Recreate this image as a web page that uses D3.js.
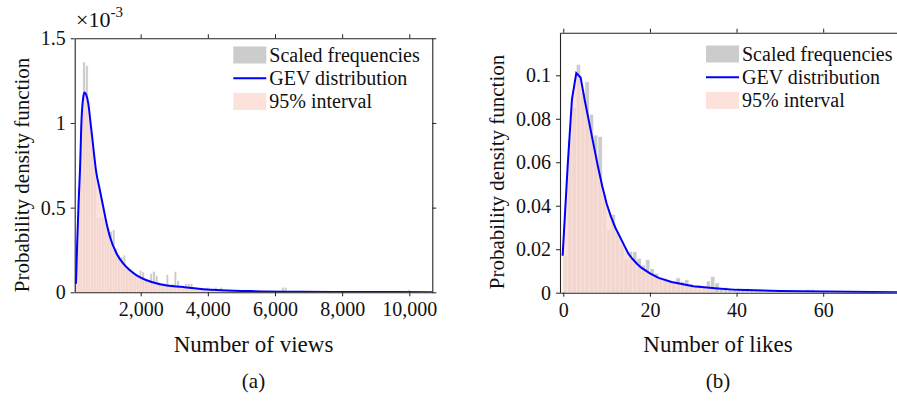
<!DOCTYPE html>
<html>
<head>
<meta charset="utf-8">
<script src="https://cdn.jsdelivr.net/npm/d3@7"></script>
<style>
  html, body { margin: 0; padding: 0; background: #fff; }
  svg { display: block; font-family: "Liberation Serif", "DejaVu Serif", serif; }
  text { font-family: "Liberation Serif", "DejaVu Serif", serif; fill: #111; }
</style>
</head>
<body>
<svg id="chart" width="897" height="403"></svg>
<script>
// ---------------- DATA ----------------
// (a) Number of views: histogram bins (start, width) and scaled frequencies (x 1e-3)
const viewBinStart = 35;
const viewBinWidth = 80;
const viewFreq = [
  0.10, 0.62, 1.00, 1.36, 1.34, 1.02, 0.88, 0.74, 0.44, 0.44,
  0.44, 0.42, 0.38, 0.36, 0.37, 0.26, 0.22, 0.21, 0.22, 0.15,
  0.14, 0.12, 0.11, 0.10, 0.13, 0.12, 0.08, 0.07, 0.11, 0.124,
  0.10, 0.06, 0.05, 0.05, 0.106, 0.04, 0.05, 0.124, 0.07, 0.03,
  0.035, 0.051, 0.051, 0.051, 0.02, 0.025, 0.02, 0.015, 0.02, 0.03,
  0.02, 0.015, 0.03, 0.01, 0.03, 0.01, 0.008, 0.006, 0.01, 0.005,
  0.008, 0.006, 0.005, 0.007, 0.004, 0.006, 0.005, 0.004, 0.006, 0.004,
  0.005, 0.003, 0.004, 0.003, 0.005, 0.003, 0.004, 0.03, 0.03, 0.004,
  0.003, 0.003, 0.004, 0.002, 0.003, 0.003, 0.002, 0.004, 0.002, 0.003,
  0.002, 0.003, 0.002, 0.002, 0.003, 0.002, 0.002, 0.003, 0.002, 0.002,
  0.003, 0.002, 0.002, 0.002, 0.003, 0.002, 0.002, 0.002, 0.002, 0.003,
  0.002, 0.002, 0.002, 0.002, 0.002, 0.003, 0.002, 0.002, 0.002, 0.002,
  0.002, 0.002, 0.002, 0.002, 0.015, 0.002, 0.002, 0.002, 0.002, 0.002,
  0.002, 0.002, 0.002
];
// GEV fitted pdf for views (x, y x1e-3)
const viewCurveX = [73, 110, 150, 192, 242, 290, 330, 380, 440, 510, 588, 669, 788, 886, 987, 1086, 1285, 1483, 1681, 1880, 2178, 2575, 3270, 4263, 5255, 6745, 8500, 10685];
const viewCurveY = [0.05, 0.30, 0.52, 0.72, 1.035, 1.153, 1.18, 1.165, 1.114, 0.996, 0.858, 0.72, 0.60, 0.504, 0.405, 0.327, 0.228, 0.169, 0.130, 0.100, 0.071, 0.047, 0.031, 0.013, 0.007, 0.003, 0.0015, 0.001];
const viewIntervalEnd = 5600;

// (b) Number of likes: histogram bins and scaled frequencies
const likeBinStart = 0;
const likeBinWidth = 1;
const likeFreq = [
  0.017, 0.070, 0.085, 0.105, 0.092, 0.097, 0.082, 0.0725, 0.0718, 0.045,
  0.029, 0.036, 0.028, 0.022, 0.0158, 0.019, 0.0189, 0.0158, 0.0127, 0.0152,
  0.011, 0.009, 0.007, 0.0066, 0.005, 0.004, 0.0068, 0.005, 0.0061, 0.004,
  0.003, 0.0035, 0.003, 0.0054, 0.0075, 0.0045, 0.002, 0.0025, 0.0015, 0.002,
  0.001, 0.0015, 0.002, 0.001, 0.0008, 0.001, 0.0007, 0.0008, 0.0006, 0.0007,
  0.0005, 0.0006, 0.0005, 0.0006, 0.0005, 0.0005, 0.0015, 0.0015, 0.0004, 0.0004,
  0.0003, 0.0004, 0.0003, 0.0003, 0.0004, 0.0003, 0.0003, 0.0003, 0.0003, 0.0003,
  0.0003, 0.0002, 0.0003, 0.0002, 0.0002, 0.0002, 0.0002
];
const likeCurveX = [-0.15, 1, 2, 3, 4, 5, 6, 7, 8, 9, 10, 11, 12, 13, 14, 15, 16, 17, 18, 20, 22, 25, 30, 35, 40, 50, 60, 77.5];
const likeCurveY = [0.017, 0.058, 0.089, 0.101, 0.099, 0.088, 0.078, 0.068, 0.058, 0.049, 0.041, 0.035, 0.030, 0.026, 0.022, 0.018, 0.0155, 0.0133, 0.0115, 0.0089, 0.0068, 0.0049, 0.003, 0.0021, 0.0013, 0.0008, 0.0005, 0.0002];
const likeIntervalEnd = 37;

// Tick values / labels
const viewXTicks = [2000, 4000, 6000, 8000, 10000];
const viewYTicks = [0, 0.5, 1, 1.5];
const likeXTicks = [0, 20, 40, 60];
const likeYTicks = [0, 0.02, 0.04, 0.06, 0.08, 0.1];
const legendLabels = ["Scaled frequencies", "GEV distribution", "95% interval"];

// ---------------- STYLE ----------------
const FONT = '"Liberation Serif", "DejaVu Serif", serif';
const grayFill = "#cccccc";
const pinkFill = "rgb(252,217,209)";
const pinkOpacity = 0.78;
const blue = "#0000ff";
const axisColor = "#222";
const tickFont = 20;

const svg = d3.select("#chart");

function drawPanel(cfg) {
  const g = svg.append("g");
  const x = d3.scaleLinear().domain(cfg.xDomain).range([cfg.left, cfg.right]);
  const y = d3.scaleLinear().domain(cfg.yDomain).range([cfg.bottom, cfg.top]);

  const clipId = "clip-" + cfg.id;
  svg.append("clipPath").attr("id", clipId)
    .append("rect").attr("x", cfg.left).attr("y", cfg.top)
    .attr("width", cfg.right - cfg.left).attr("height", cfg.bottom - cfg.top);

  const plot = g.append("g").attr("clip-path", `url(#${clipId})`);

  // histogram bars
  plot.selectAll("rect.bar").data(cfg.freq).join("rect")
    .attr("class", "bar")
    .attr("x", (d, i) => x(cfg.binStart + i * cfg.binWidth))
    .attr("width", (d, i) => x(cfg.binStart + (i + 1) * cfg.binWidth) - x(cfg.binStart + i * cfg.binWidth))
    .attr("y", d => y(d))
    .attr("height", d => y(0) - y(d))
    .attr("fill", grayFill)
    .attr("stroke", "#fff")
    .attr("stroke-width", 0.6);

  const pts = cfg.curveX.map((v, i) => [v, cfg.curveY[i]]);
  const curveType = cfg.smooth ? d3.curveMonotoneX : d3.curveLinear;

  // 95% interval area
  const areaPts = pts.filter(p => p[0] <= cfg.intervalEnd);
  plot.append("path").datum(areaPts)
    .attr("d", d3.area().x(d => x(d[0])).y0(y(0)).y1(d => y(d[1])).curve(curveType))
    .attr("fill", pinkFill).attr("fill-opacity", pinkOpacity);

  // GEV curve
  plot.append("path").datum(pts)
    .attr("d", d3.line().x(d => x(d[0])).y(d => y(d[1])).curve(curveType))
    .attr("fill", "none").attr("stroke", blue).attr("stroke-width", 2);

  // axes
  const gx = g.append("g").attr("transform", `translate(0,${cfg.bottom})`)
    .call(d3.axisBottom(x).tickValues(cfg.xTicks).tickFormat(cfg.xFormat).tickSize(4).tickSizeOuter(0).tickPadding(6));
  const gxt = g.append("g").attr("transform", `translate(0,${cfg.top})`)
    .call(d3.axisTop(x).tickValues(cfg.xTicks).tickFormat("").tickSize(4).tickSizeOuter(0));
  const gy = g.append("g").attr("transform", `translate(${cfg.left},0)`)
    .call(d3.axisLeft(y).tickValues(cfg.yTicks).tickFormat(cfg.yFormat).tickSize(4).tickSizeOuter(0).tickPadding(5));
  const axes = [gx, gxt, gy];
  if (cfg.rightAxis) {
    axes.push(g.append("g").attr("transform", `translate(${cfg.right},0)`)
      .call(d3.axisRight(y).tickValues(cfg.yTicks).tickFormat("").tickSize(4).tickSizeOuter(0)));
  }
  axes.forEach(a => {
    a.attr("font-family", FONT).attr("font-size", tickFont);
    a.selectAll("path.domain").attr("stroke", axisColor).attr("stroke-width", 1.1);
    a.selectAll(".tick line").attr("stroke", axisColor).attr("stroke-width", 1);
    a.selectAll(".tick text").attr("font-family", FONT).style("font-family", FONT)
      .style("font-size", tickFont + "px").attr("fill", "#111");
  });

  // axis labels
  g.append("text").attr("x", cfg.xLabelX).attr("y", 352)
    .attr("text-anchor", "middle").style("font-size", "23px").text(cfg.xLabel);
  g.append("text").attr("transform", `translate(${cfg.yLabelX},${cfg.yLabelY}) rotate(-90)`)
    .attr("text-anchor", "middle").style("font-size", "21px").text("Probability density function");
  g.append("text").attr("x", cfg.xLabelX).attr("y", 388)
    .attr("text-anchor", "middle").style("font-size", "21px").text(cfg.panel);

  // legend
  const lg = g.append("g");
  const rowH = 23.2;
  legendLabels.forEach((lab, i) => {
    const cy = cfg.legendY + i * rowH;
    if (i === 0) {
      lg.append("rect").attr("x", cfg.legendX).attr("y", cy - 8.5).attr("width", 33).attr("height", 17).attr("fill", grayFill);
    } else if (i === 1) {
      lg.append("line").attr("x1", cfg.legendX).attr("x2", cfg.legendX + 33).attr("y1", cy).attr("y2", cy)
        .attr("stroke", blue).attr("stroke-width", 2);
    } else {
      lg.append("rect").attr("x", cfg.legendX).attr("y", cy - 8.5).attr("width", 33).attr("height", 17)
        .attr("fill", pinkFill).attr("fill-opacity", pinkOpacity);
    }
    lg.append("text").attr("x", cfg.legendX + 36).attr("y", cy).attr("dy", "0.34em")
      .style("font-size", "20px").text(lab);
  });
  return { x, y, g };
}

const comma = d3.format(",");

drawPanel({
  id: "a",
  left: 74.7, right: 432.3, top: 38.3, bottom: 292.3,
  xDomain: [viewBinStart, 10685], yDomain: [0, 1.5],
  binStart: viewBinStart, binWidth: viewBinWidth, freq: viewFreq,
  curveX: viewCurveX, curveY: viewCurveY, intervalEnd: viewIntervalEnd, smooth: true,
  xTicks: viewXTicks, yTicks: viewYTicks,
  xFormat: d => comma(d), yFormat: d => String(d),
  rightAxis: true,
  xLabel: "Number of views", xLabelX: 253.5, yLabelX: 29, yLabelY: 175,
  panel: "(a)",
  legendX: 233.3, legendY: 55
});

// exponent label
const expG = svg.append("text").attr("x", 76).attr("y", 27).style("font-size", "22px");
expG.append("tspan").text("\u00d710");
expG.append("tspan").attr("dy", -10).style("font-size", "15px").text("-3");

drawPanel({
  id: "b",
  left: 560, right: 899, top: 32.7, bottom: 292.7,
  xDomain: [-0.76, 77.5], yDomain: [0, 0.1196],
  binStart: likeBinStart, binWidth: likeBinWidth, freq: likeFreq,
  curveX: likeCurveX, curveY: likeCurveY, intervalEnd: likeIntervalEnd, smooth: false,
  xTicks: likeXTicks, yTicks: likeYTicks,
  xFormat: d => String(d), yFormat: d => String(d),
  rightAxis: false,
  xLabel: "Number of likes", xLabelX: 718, yLabelX: 504, yLabelY: 172,
  panel: "(b)",
  legendX: 706, legendY: 54
});
</script>
</body>
</html>
